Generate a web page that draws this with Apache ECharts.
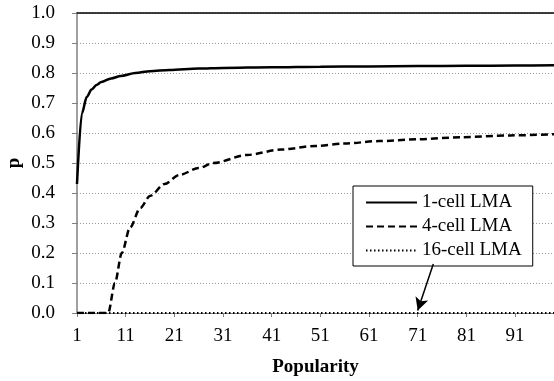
<!DOCTYPE html>
<html>
<head>
<meta charset="utf-8">
<script src="https://cdn.jsdelivr.net/npm/echarts@6/dist/echarts.min.js"></script>
<style>html,body{margin:0;padding:0;background:#fff}#c{width:554px;height:381px}</style>
</head>
<body>
<div id="c"></div>
<script>
const xTickStart = 1, xTickStep = 10, xMax = 99;
const yTicks = [0,0.1,0.2,0.3,0.4,0.5,0.6,0.7,0.8,0.9,1.0];

const pop1 = [1,2,3,4,5,6,8,10,13,16,20,26,31,41,51,61,71,81,91,99];
const cell1 = [0.43,0.665,0.72,0.745,0.76,0.77,0.782,0.79,0.8,0.806,0.81,0.815,0.817,0.819,0.821,0.822,0.823,0.824,0.825,0.826];

const pop4 = [1,7.4,8.8,10.2,11.9,14,16,19,22,26,29,36,43,50,56,63,71,80,90,99];
const cell4 = [0,0,0.1,0.2,0.285,0.35,0.39,0.43,0.46,0.483,0.5,0.527,0.545,0.557,0.565,0.573,0.579,0.586,0.592,0.596];

const pop16 = [1,99];
const cell16 = [0,0];

const names = ['1-cell LMA','4-cell LMA','16-cell LMA'];
const arrowFrom = [74.2, 0.163], arrowTo = [71, 0.008];

const zip = (a,b)=>a.map((v,i)=>[v,b[i]]);
const font = 'Liberation Serif';

const chart = echarts.init(document.getElementById('c'));
chart.setOption({
  animation: false,
  textStyle: {fontFamily: font},
  grid: {left: 77, right: 0, top: 13, bottom: 68, containLabel: false, outerBoundsMode: 'none'},
  xAxis: [{
    type: 'value', min: xTickStart, max: xMax, interval: xTickStep,
    name: 'Popularity', nameLocation: 'middle', nameGap: 45,
    nameTextStyle: {fontFamily: font, fontWeight: 'bold', fontSize: 19, color: '#000'},
    axisLine: {show: true, lineStyle: {color: '#808080', width: 1}},
    axisTick: {show: true, length: 4, lineStyle: {color: '#808080'}},
    axisLabel: {fontFamily: font, fontSize: 19, color: '#000', margin: 14, showMaxLabel: false},
    splitLine: {show: false}
  },{
    type: 'value', position: 'top', min: xTickStart, max: xMax,
    axisLine: {show: true, onZero: false, lineStyle: {color: '#000', width: 1.5}},
    axisTick: {show: false}, axisLabel: {show: false}, splitLine: {show: false}
  }],
  yAxis: {
    type: 'value', min: yTicks[0], max: yTicks[yTicks.length-1], interval: 0.1,
    name: 'p', nameLocation: 'middle', nameGap: 53, nameRotate: 90, nameMoveOverlap: false,
    nameTextStyle: {fontFamily: font, fontWeight: 'bold', fontSize: 19, color: '#000'},
    axisLine: {show: true, lineStyle: {color: '#808080', width: 1.5}},
    axisTick: {show: true, length: 5, lineStyle: {color: '#808080'}},
    axisLabel: {fontFamily: font, fontSize: 19, color: '#000', margin: 22, formatter: v => v.toFixed(1)},
    splitLine: {show: true, lineStyle: {color: '#999', type: [1,2], width: 1}}
  },
  legend: {
    orient: 'vertical', left: 353, top: 186,
    backgroundColor: '#fff', borderColor: '#000', borderWidth: 1,
    padding: [7, 11, 6, 12], itemGap: 5, itemWidth: 51, itemHeight: 14,
    itemStyle: {opacity: 0},
    textStyle: {fontFamily: font, fontSize: 19, color: '#000'},
    data: names
  },
  series: [{
    name: names[0], type: 'line', data: zip(pop1, cell1), showSymbol: false, symbol: 'none',
    smooth: 0.3, smoothMonotone: 'x',
    lineStyle: {color: '#000', width: 2.5, type: 'solid'}, itemStyle: {color: '#000'}
  },{
    name: names[1], type: 'line', data: zip(pop4, cell4), showSymbol: false, symbol: 'none',
    smooth: 0.3, smoothMonotone: 'x',
    lineStyle: {color: '#000', width: 2.5, type: [7,4]}, itemStyle: {color: '#000'}
  },{
    name: names[2], type: 'line', data: zip(pop16, cell16), showSymbol: false, symbol: 'none',
    lineStyle: {color: '#000', width: 2, type: [1.5,2.5]}, itemStyle: {color: '#000'},
    markLine: {
      silent: true, symbol: ['none','arrow'], symbolSize: [10, 13],
      label: {show: false},
      lineStyle: {color: '#000', width: 1.5, type: 'solid'},
      data: [[{coord: arrowFrom}, {coord: arrowTo}]]
    }
  }]
});
</script>
</body>
</html>
